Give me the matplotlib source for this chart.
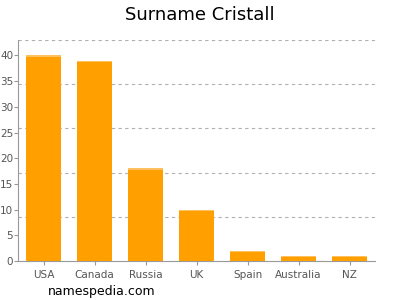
import matplotlib.pyplot as plt
import numpy as np

countries = ["USA", "Canada", "Russia", "UK", "Spain", "Australia", "NZ"]
counts = [40, 39, 18, 10, 2, 1, 1]
ytick_values = [0, 5, 10, 15, 20, 25, 30, 35, 40]
ymax = 43

fig = plt.figure(figsize=(4, 3), dpi=100)
ax = fig.add_axes([0.045, 0.13, 0.8925, 0.7367])

x = np.arange(len(countries))
ax.bar(x, counts, width=35 / 51, color="#FFA000", edgecolor="none", zorder=3)
# thin light line on the top of each bar
ax.bar(x, [0.25] * len(counts), bottom=np.array(counts) - 0.25, width=35 / 51,
       color="#FFC060", edgecolor="none", zorder=4)

ax.set_xlim(-0.5, len(countries) - 0.5)
ax.set_ylim(0, ymax)
for k in range(1, 6):
    ax.axhline(ymax * k / 5, color="#b0b0b0", linestyle=(0, (3, 3)), linewidth=0.8, zorder=1)

ax.set_xticks(x)
ax.set_xticklabels(countries)
ax.set_yticks(ytick_values)
ax.tick_params(axis="both", colors="#999999", labelcolor="#555555", labelsize=7.5, length=3)
ax.tick_params(axis="y", pad=0.5)
for side in ["top", "right"]:
    ax.spines[side].set_visible(False)
for side in ["left", "bottom"]:
    ax.spines[side].set_color("#999999")

fig.text(0.5, 0.95, "Surname Cristall", ha="center", va="center", fontsize=13)
fig.text(0.12, 0.03, "namespedia.com", ha="left", va="center", fontsize=9)

fig.savefig("out.png", dpi=100)
